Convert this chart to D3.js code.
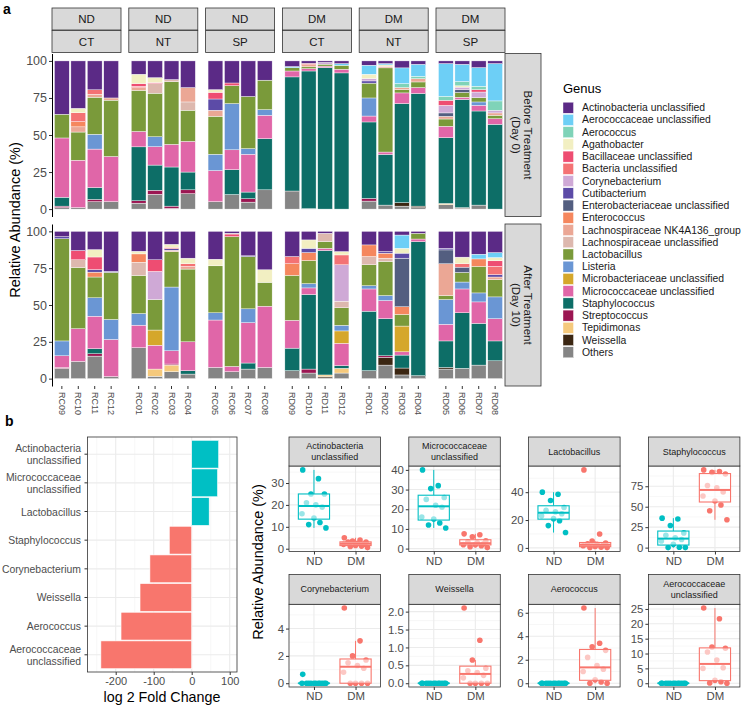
<!DOCTYPE html>
<html lang="en">
<head>
<meta charset="utf-8">
<title>Genus relative abundance, ND vs DM</title>
<script src="https://cdn.jsdelivr.net/npm/d3@7"></script>
<style>
  body { margin: 0; background: #fff; }
  svg text { font-family: "Liberation Sans", Arial, Helvetica, sans-serif; }
</style>
</head>
<body>
<script>
// ---------------- data ----------------
var genera = ["Actinobacteria unclassified", "Aerococcaceae unclassified", "Aerococcus", "Agathobacter",
  "Bacillaceae unclassified", "Bacteria unclassified", "Corynebacterium", "Cutibacterium",
  "Enterobacteriaceae unclassified", "Enterococcus", "Lachnospiraceae NK4A136_group",
  "Lachnospiraceae unclassified", "Lactobacillus", "Listeria", "Microbacteriaceae unclassified",
  "Micrococcaceae unclassified", "Staphylococcus", "Streptococcus", "Tepidimonas", "Weissella", "Others"];
var genusKeys = ["Act", "AerU", "Aer", "Aga", "Bac", "BacU", "Cor", "Cut", "Ent", "Enc", "LNK",
  "LU", "Lac", "Lis", "MbU", "Mic", "Sta", "Str", "Tep", "Wei", "Oth"];
var genusColors = ["#5B2A86", "#6DCFF6", "#7FD3B8", "#F2EFC2", "#EE4D72", "#F47274", "#CFA9D6",
  "#5C4BA7", "#535E80", "#F5875E", "#EBA795", "#DDB8AE", "#7A9A3A", "#6A96D4", "#D5A72B",
  "#E066A8", "#0D6E67", "#9B1652", "#F5C97C", "#3B2612", "#858585"];

var diets = ["ND", "ND", "ND", "DM", "DM", "DM"];
var sites = ["CT", "NT", "SP", "CT", "NT", "SP"];
var samples = [["RC09", "RC10", "RC11", "RC12"], ["RC01", "RC02", "RC03", "RC04"],
  ["RC05", "RC06", "RC07", "RC08"], ["RD09", "RD10", "RD11", "RD12"],
  ["RD01", "RD02", "RD03", "RD04"], ["RD05", "RD06", "RD07", "RD08"]];
var timepoints = [["Before Treatment", "(Day 0)"], ["After Treatment", "(Day 10)"]];
var abundanceTicks = [0, 25, 50, 75, 100];

// percent per genus, same sample order as `samples`
var beforeTreatment = [
  {Oth: 1, Str: 1, Sta: 6, Mic: 40, Lac: 16, Act: 36},
  {Oth: 1, Mic: 32, Lac: 19, LNK: 3.5, Enc: 3.5, BacU: 6, Aga: 3, Act: 32},
  {Oth: 5, Str: 1.5, Sta: 8, Mic: 26, Lis: 10, Lac: 25, LNK: 2, BacU: 3, Act: 19.5},
  {Oth: 5, Mic: 30.5, Lac: 38, LNK: 1.5, Act: 25},
  {Oth: 4, Str: 1.6, Sta: 36.4, Mic: 10.4, Lac: 27.7, LNK: 1.8, BacU: 1, Bac: 1.8, Aga: 6.3, Act: 9},
  {Oth: 10, Str: 2.7, Sta: 17, Mic: 12.4, Lis: 6.7, Lac: 29.4, LU: 6.5, Bac: 0.7, Aga: 3.3, Act: 11.3},
  {Oth: 0.5, Str: 1.5, Sta: 26.4, Mic: 15.3, Lac: 42.3, LU: 1.4, Act: 12.6},
  {Oth: 10.4, Str: 2.6, Sta: 12, Mic: 20.7, Lac: 21, LU: 5.6, LNK: 9.7, Act: 18},
  {Oth: 5, Mic: 21, Lis: 11, Lac: 25.6, LNK: 4.1, Cut: 7.6, Bac: 4.5, Aga: 1.8, Act: 19.4},
  {Oth: 9.8, Sta: 16.8, Mic: 13.4, Lis: 31.2, Lac: 12.1, Bac: 1.8, Act: 14.9},
  {Oth: 4.7, Str: 2.3, Sta: 4.5, Mic: 25.5, Lis: 3.8, Lac: 35.2, Act: 24},
  {Oth: 13, Sta: 34.5, Mic: 15.8, Lis: 3.8, Lac: 19.9, Act: 13},
  {Oth: 12.2, Sta: 77, Mic: 4, Lac: 2.2, AerU: 0.8, Act: 3.8},
  {Oth: 0.3, Sta: 92.9, Mic: 1.6, Lac: 1.2, BacU: 1, LNK: 1.4, Act: 1.6},
  {Sta: 95.5, Mic: 1, Lac: 1.3, Cor: 1.2, Act: 1},
  {Sta: 91.9, Mic: 2.5, Lac: 2.6, AerU: 1.2, Act: 1.8},
  {Oth: 5.4, Str: 1.8, Sta: 51.6, Mic: 4, Lis: 12.2, Lac: 10, Cut: 1.5, Cor: 1.6, Aga: 2.9, AerU: 6.1, Act: 2.9},
  {Oth: 2.7, Sta: 34.2, Mic: 1.6, Lac: 56.8, LNK: 1.1, Aga: 0.9, AerU: 0.9, Act: 1.8},
  {Oth: 2, Wei: 2.3, Sta: 66.9, Mic: 7.2, Lac: 2.2, LNK: 1.4, Aer: 2.7, AerU: 10.6, Act: 4.7},
  {Oth: 1, Wei: 1, Sta: 76, Mic: 4, Lac: 3.8, LNK: 2.2, Aer: 1.6, AerU: 8.1, Act: 2.3},
  {Oth: 3, Tep: 0.8, Sta: 44.4, Mic: 7.7, Lac: 4.9, LNK: 1.8, Ent: 2.3, Cor: 5.1, Bac: 3.4, Aer: 2.7, AerU: 22.1, Act: 1.8},
  {Oth: 0.5, Wei: 0.5, Sta: 73, Mic: 1.5, Lac: 3.2, Cor: 1.8, Ent: 1.8, Aga: 0.9, Aer: 2.9, AerU: 11.6, Act: 2.3},
  {Oth: 2.7, Sta: 63.5, Mic: 3.8, Lis: 2.3, Lac: 2.9, Cor: 3.8, Bac: 1.6, Aer: 2.3, AerU: 12.6, Act: 4.5},
  {Sta: 57.2, Mic: 3.8, Lac: 2.3, LNK: 1.6, Cor: 1.8, Aer: 6.3, AerU: 25.2, Act: 1.8}
];
var afterTreatment = [
  {Oth: 7, Str: 0.6, Mic: 7.9, Lis: 10.1, Lac: 69.4, Cut: 1.4, Act: 3.6},
  {Oth: 11.7, Mic: 22.2, Lac: 41.6, LU: 5.2, Bac: 6.3, Act: 13},
  {Oth: 15.3, Str: 1.6, Sta: 3.4, Mic: 22.1, Lis: 12.5, Lac: 14.1, Cut: 1.7, Enc: 3.3, Bac: 8.6, Aga: 5, Act: 12.4},
  {Oth: 1.4, Mic: 25.2, Lis: 13.6, Lac: 32, Cut: 0.7, Act: 27.1},
  {Oth: 21, Mic: 15.3, Lis: 7.9, Lac: 25.8, LU: 9, Enc: 5.7, Aga: 1.8, Act: 13.5},
  {Oth: 1.6, Tep: 4.9, Mic: 16.2, MbU: 10.3, Lac: 20.7, Cor: 19.1, Bac: 7.9, Act: 19.3},
  {Oth: 4.7, Tep: 4.5, Str: 0.7, Mic: 9, Lis: 43.3, Lac: 24.1, Cut: 1, BacU: 1, LNK: 0.9, Aga: 2, Act: 8.8},
  {Oth: 3.1, Sta: 2.3, Mic: 19.6, Lac: 49.4, LNK: 1.8, BacU: 1.8, Aga: 3.8, Act: 18.2},
  {Oth: 7.6, Mic: 32.2, Lis: 4.9, Lac: 31.9, Aga: 4.5, Act: 18.9},
  {Oth: 4.7, Mic: 3.6, Lac: 88.1, Bac: 1.8, Aga: 0.5, Act: 1.3},
  {Oth: 6.5, Sta: 4.1, Mic: 27.4, Lis: 9.4, Lac: 35.5, Cut: 0.5, Act: 16.6},
  {Oth: 7.6, Mic: 41.6, Lac: 16.2, Aga: 8.5, Act: 26.1},
  {Oth: 5.4, Sta: 15.3, Mic: 18.9, Lac: 30.5, Enc: 7.9, BacU: 4.9, Act: 17.1},
  {Oth: 3.8, Str: 2.7, Sta: 50.6, Mic: 4.5, Lis: 2.9, Lac: 15.7, Enc: 5.4, Cut: 2.9, Aga: 5.7, Act: 5.8},
  {Oth: 0.5, Wei: 0.9, Tep: 1.1, Sta: 84.5, Mic: 1.5, Lac: 4.5, LU: 5.7, Act: 1.3},
  {Oth: 3.8, Tep: 3.2, Sta: 1.8, Mic: 15.2, MbU: 8.4, Lis: 3.8, Lac: 11.9, LU: 4.5, Cor: 24.7, BacU: 6.7, Aga: 2.3, Act: 13.7},
  {Oth: 5.4, Sta: 40.4, Mic: 15.1, Lis: 2.2, Lac: 14.2, LU: 5.6, Enc: 7.9, Act: 9.2},
  {Oth: 9.2, Wei: 5.2, Str: 1.1, Sta: 25.2, Mic: 12.3, Lis: 3.4, Lac: 23.2, LU: 2.2, Enc: 3.4, Cut: 1.1, Act: 13.7},
  {Oth: 2.5, Wei: 4.7, Sta: 8.8, Mic: 2.2, MbU: 17.5, Lac: 7.9, Enc: 5.2, Ent: 33, Cut: 3.4, Aga: 3.3, AerU: 9, Act: 2.5},
  {Oth: 2, Sta: 91, Mic: 1.8, Lac: 3.9, Act: 1.3},
  {Oth: 6.5, Wei: 1.1, Sta: 18, Mic: 11.3, Lis: 16.8, Lac: 2.7, LNK: 21.6, Ent: 9.4, Cut: 1.1, Act: 11.5},
  {Oth: 7, Sta: 37.7, Mic: 16.2, Lis: 4.7, Lac: 6.5, Ent: 3.6, BacU: 2.3, Aga: 4.5, Act: 17.5},
  {Oth: 9.2, Sta: 28.3, Mic: 14.6, Lis: 6.1, Lac: 18, Enc: 5.1, AerU: 3.2, Act: 15.5},
  {Oth: 12.1, Sta: 13.5, Mic: 15.1, Lis: 14.8, Lac: 11.7, LNK: 1.8, Cut: 1.6, BacU: 5.6, Bac: 3.8, Aga: 2.2, AerU: 3.4, Act: 14.4}
];

// panel b, fold change
var foldGenera = ["Actinobacteria\nunclassified", "Micrococcaceae\nunclassified", "Lactobacillus",
  "Staphylococcus", "Corynebacterium", "Weissella", "Aerococcus", "Aerococcaceae\nunclassified"];
var foldChange = [71, 68, 46, -59, -110, -136, -186, -239];
var foldTicks = [-200, -100, 0, 100];
var foldMinor = [-250, -150, -50, 50];

// panel b, box plots
var groups = ["ND", "DM"];
var boxGenera = ["Actinobacteria\nunclassified", "Micrococcaceae\nunclassified", "Lactobacillus",
  "Staphylococcus", "Corynebacterium", "Weissella", "Aerococcus", "Aerococcaceae\nunclassified"];
var ndAbundance = [
  [36, 32, 25, 25, 21, 20, 19, 16, 14, 12, 11, 9.5],
  [40, 32, 30.5, 26, 25, 22, 21, 16, 15, 13, 12, 10.5],
  [40, 38.5, 34, 29, 27, 26, 24.5, 23, 21, 19.5, 16, 11],
  [36, 35, 27, 18, 15, 12, 10, 8, 4, 0.5, 0, 0],
  [0.65, 0, 0, 0, 0, 0, 0, 0, 0, 0, 0, 0],
  [0, 0, 0, 0, 0, 0, 0, 0, 0, 0, 0, 0],
  [0, 0, 0, 0, 0, 0, 0, 0, 0, 0, 0, 0],
  [0, 0, 0, 0, 0, 0, 0, 0, 0, 0, 0, 0]
];
var dmAbundance = [
  [5, 4, 3.5, 3, 3, 2.5, 2, 2, 1.5, 1.2, 1, 0.5],
  [7.5, 7, 6, 4, 3.5, 3, 2.5, 2, 2, 1.5, 1, 0.5],
  [56, 10, 5, 3.5, 3, 2.5, 2, 1.5, 1, 0.5, 0.3, 0.2],
  [95, 93, 92, 90, 76, 73, 68, 63, 57, 52, 45, 34],
  [5.5, 3.1, 2.0, 1.7, 1.5, 1.3, 1.1, 0.8, 0, 0, 0, 0],
  [2.1, 1.2, 0.65, 0.42, 0.35, 0.3, 0.22, 0.15, 0, 0, 0, 0],
  [6.4, 3.4, 3.1, 2.8, 2.2, 1.5, 1.2, 1.0, 0.3, 0.1, 0, 0],
  [25.3, 21.7, 12.2, 11.8, 10.5, 7.8, 5.2, 5.0, 1.0, 0.5, 0.1, 0]
];
var boxTickLabels = [
  ["0", "10", "20", "30"], ["0", "10", "20", "30", "40"], ["0", "20", "40"], ["0", "25", "50", "75"],
  ["0", "2", "4"], ["0.0", "0.5", "1.0", "1.5", "2.0"], ["0", "2", "4", "6"], ["0", "5", "10", "15", "20", "25"]
];

// ---------------- drawing ----------------
var svg = d3.select("body").append("svg").attr("width", 742).attr("height", 706);
var axisGrey = "#4D4D4D", stripFill = "#D9D9D9", stripLine = "#333333";
var groupColor = d3.scaleOrdinal().domain(groups).range(["#00BFC4", "#F8766D"]);
var color = d3.scaleOrdinal().domain(genusKeys).range(genusColors);

svg.append("text").attr("x", 3).attr("y", 14).text("a")
  .attr("font-size", 14).attr("font-weight", "bold");
svg.append("text").attr("x", 5).attr("y", 426).text("b")
  .attr("font-size", 14).attr("font-weight", "bold");

// multi-line helper
function lines(sel, str, lh) {
  var parts = str.split("\n");
  parts.forEach(function(p, i) {
    sel.append("tspan").attr("x", sel.attr("x"))
      .attr("dy", i == 0 ? (-(parts.length - 1) * lh / 2) + "px" : lh + "px").text(p);
  });
}

// ---- panel a ----
var facetLeft = 52, facetStep = 76.8, facetW = 69;
var aRows = [
  {top: 53.5, bottom: 216.5, data: beforeTreatment},
  {top: 224, bottom: 386, data: afterTreatment}
];
var stacker = d3.stack().keys(genusKeys.slice().reverse());

aRows.forEach(function(row, ri) {
  var y = d3.scaleLinear().domain([-5, 105]).range([row.bottom, row.top]);
  var norm = row.data.map(function(r) {
    var total = d3.sum(genusKeys, function(k) { return r[k] || 0; });
    var o = {};
    genusKeys.forEach(function(k) { o[k] = (r[k] || 0) * 100 / total; });
    return o;
  });

  var ax = svg.append("g").attr("transform", "translate(" + facetLeft + ",0)")
    .call(d3.axisLeft(y).tickValues(abundanceTicks).tickSize(3).tickSizeOuter(0).tickPadding(2));
  ax.select(".domain").attr("stroke", "#000").attr("stroke-width", 1);
  ax.selectAll(".tick line").attr("stroke", "#333");
  ax.selectAll(".tick text").attr("fill", axisGrey).attr("font-size", 12.5)
    .attr("font-family", "'Liberation Sans', Arial, sans-serif");

  sites.forEach(function(site, fi) {
    var x0 = facetLeft + fi * facetStep;
    var x = d3.scaleBand().domain(samples[fi]).range([x0, x0 + facetW])
      .paddingInner(0.1).paddingOuter(0.15);
    var bars = norm.slice(fi * 4, fi * 4 + 4).map(function(d, i) {
      d.sample = samples[fi][i];
      return d;
    });
    svg.append("g").selectAll("g").data(stacker(bars)).enter().append("g")
      .attr("fill", function(s) { return color(s.key); })
      .selectAll("rect").data(function(s) { return s.filter(function(d) { return d[1] - d[0] > 0; }); })
      .enter().append("rect")
      .attr("x", function(d) { return x(d.data.sample); })
      .attr("y", function(d) { return y(d[1]); })
      .attr("width", x.bandwidth())
      .attr("height", function(d) { return y(d[0]) - y(d[1]); })
      .attr("stroke", "#fff").attr("stroke-width", 0.4);

    if (ri == 0) {
      [diets[fi], site].forEach(function(lab, k) {
        var sy = 8 + k * 22.5;
        svg.append("rect").attr("x", x0).attr("y", sy).attr("width", facetW).attr("height", 22)
          .attr("fill", stripFill).attr("stroke", stripLine).attr("stroke-width", 0.8);
        svg.append("text").attr("x", x0 + facetW / 2).attr("y", sy + 11).text(lab)
          .attr("text-anchor", "middle").attr("dominant-baseline", "central")
          .attr("font-size", 11.5).attr("fill", "#1A1A1A");
      });
    } else {
      samples[fi].forEach(function(s) {
        var cx = x(s) + x.bandwidth() / 2;
        svg.append("line").attr("x1", cx).attr("x2", cx).attr("y1", row.bottom).attr("y2", row.bottom + 3)
          .attr("stroke", "#333");
        svg.append("text").attr("x", cx).attr("y", row.bottom + 6).text(s)
          .attr("transform", "rotate(90," + cx + "," + (row.bottom + 6) + ")")
          .attr("dominant-baseline", "central").attr("font-size", 9).attr("fill", axisGrey);
      });
    }
  });

  // row strip on the right
  var sx = facetLeft + 5 * facetStep + facetW;
  svg.append("rect").attr("x", sx).attr("y", row.top).attr("width", 36).attr("height", row.bottom - row.top)
    .attr("fill", stripFill).attr("stroke", stripLine).attr("stroke-width", 0.8);
  timepoints[ri].forEach(function(t, k) {
    var tx = sx + 23 - k * 12, ty = (row.top + row.bottom) / 2;
    svg.append("text").attr("x", tx).attr("y", ty).text(t)
      .attr("transform", "rotate(90," + tx + "," + ty + ")")
      .attr("text-anchor", "middle").attr("dominant-baseline", "central")
      .attr("font-size", 11.5).attr("fill", "#1A1A1A");
  });
});

svg.append("text").attr("transform", "translate(20,220) rotate(-90)")
  .attr("text-anchor", "middle").attr("font-size", 14.5).text("Relative Abundance (%)");

// legend
var legend = svg.append("g").attr("transform", "translate(563,0)");
legend.append("text").attr("x", 0).attr("y", 93).attr("font-size", 13).text("Genus");
legend.selectAll("rect").data(genusKeys).enter().append("rect")
  .attr("x", 0).attr("y", function(d, i) { return 102.2 + i * 12.23; })
  .attr("width", 10.5).attr("height", 11)
  .attr("fill", function(d) { return color(d); }).attr("stroke", "#fff").attr("stroke-width", 0.4);
legend.selectAll("text.lab").data(genera).enter().append("text").attr("class", "lab")
  .attr("x", 19).attr("y", function(d, i) { return 107.7 + i * 12.23; })
  .attr("dominant-baseline", "central").attr("font-size", 10.4).attr("fill", "#1A1A1A")
  .text(function(d) { return d; });

// ---- panel b: fold change bars ----
var fcX = d3.scaleLinear().domain([-274.2, 119.2]).range([87.5, 237]);
var fcY = d3.scaleBand().domain(foldGenera).range([437, 672]).paddingInner(0.03).paddingOuter(0.115);
var fc = svg.append("g");
fc.selectAll("line.minor").data(foldMinor).enter().append("line")
  .attr("x1", fcX).attr("x2", fcX).attr("y1", 437).attr("y2", 672)
  .attr("stroke", "#F2F2F2").attr("stroke-width", 0.6);
fc.selectAll("line.major").data(foldTicks).enter().append("line")
  .attr("x1", fcX).attr("x2", fcX).attr("y1", 437).attr("y2", 672)
  .attr("stroke", "#EBEBEB").attr("stroke-width", 1.1);
fc.selectAll("line.hgrid").data(foldGenera).enter().append("line")
  .attr("x1", 87.5).attr("x2", 237)
  .attr("y1", function(d) { return fcY(d) + fcY.bandwidth() / 2; })
  .attr("y2", function(d) { return fcY(d) + fcY.bandwidth() / 2; })
  .attr("stroke", "#EBEBEB").attr("stroke-width", 1.1);
fc.selectAll("rect.bar").data(foldGenera).enter().append("rect")
  .attr("x", function(d, i) { return Math.min(fcX(0), fcX(foldChange[i])); })
  .attr("width", function(d, i) { return Math.abs(fcX(foldChange[i]) - fcX(0)); })
  .attr("y", function(d) { return fcY(d); })
  .attr("height", fcY.bandwidth())
  .attr("fill", function(d, i) { return foldChange[i] > 0 ? "#00BFC4" : "#F8766D"; })
  .attr("stroke", "#fff").attr("stroke-width", 0.6);
fc.append("rect").attr("x", 87.5).attr("y", 437).attr("width", 149.5).attr("height", 235)
  .attr("fill", "none").attr("stroke", stripLine).attr("stroke-width", 0.8);

var fcAxisX = fc.append("g").attr("transform", "translate(0,672)")
  .call(d3.axisBottom(fcX).tickValues(foldTicks).tickSize(3).tickSizeOuter(0).tickPadding(2)
    .tickFormat(function(d) { return String(d); }));
fcAxisX.select(".domain").remove();
fcAxisX.selectAll(".tick line").attr("stroke", "#333");
fcAxisX.selectAll(".tick text").attr("fill", axisGrey).attr("font-size", 11)
  .attr("font-family", "'Liberation Sans', Arial, sans-serif");

foldGenera.forEach(function(g) {
  var cy = fcY(g) + fcY.bandwidth() / 2;
  fc.append("line").attr("x1", 84.5).attr("x2", 87.5).attr("y1", cy).attr("y2", cy).attr("stroke", "#333");
  var t = fc.append("text").attr("x", 81).attr("y", cy).attr("text-anchor", "end")
    .attr("dominant-baseline", "central").attr("font-size", 10.4).attr("fill", axisGrey);
  lines(t, g, 12);
});
fc.append("text").attr("x", 162).attr("y", 702).attr("text-anchor", "middle")
  .attr("font-size", 14.3).text("log 2 Fold Change");

// ---- panel b: box plots ----
var boxLeft = 289, boxStep = 119.8, boxW = 91.5;
var boxRows = [{stripTop: 437, top: 466, bottom: 551.5}, {stripTop: 574.5, top: 604.3, bottom: 687}];
var jitter = [-0.3, 0.12, -0.08, 0.28, -0.2, 0.05, 0.22, -0.32, 0.0, 0.16, -0.14, 0.32];

boxGenera.forEach(function(name, i) {
  var r = boxRows[Math.floor(i / 4)];
  var x0 = boxLeft + (i % 4) * boxStep;
  var x = d3.scalePoint().domain(groups).range([x0, x0 + boxW]).padding(0.6);
  var sets = [ndAbundance[i], dmAbundance[i]];
  var all = sets[0].concat(sets[1]);
  var lo = d3.min(all), hi = d3.max(all), pad = (hi - lo) * 0.05;
  var y = d3.scaleLinear().domain([lo - pad, hi + pad]).range([r.bottom, r.top]);
  var ticks = boxTickLabels[i].map(Number);
  var tstep = ticks[1] - ticks[0];
  var minor = ticks.map(function(t) { return t + tstep / 2; })
    .concat([ticks[0] - tstep / 2])
    .filter(function(v) { return v > y.domain()[0] && v < y.domain()[1]; });
  var g = svg.append("g");

  g.selectAll("line.minor").data(minor).enter().append("line")
    .attr("x1", x0).attr("x2", x0 + boxW).attr("y1", y).attr("y2", y)
    .attr("stroke", "#F2F2F2").attr("stroke-width", 0.6);
  g.selectAll("line.major").data(ticks).enter().append("line")
    .attr("x1", x0).attr("x2", x0 + boxW).attr("y1", y).attr("y2", y)
    .attr("stroke", "#EBEBEB").attr("stroke-width", 1.1);
  g.selectAll("line.vgrid").data(groups).enter().append("line")
    .attr("x1", x).attr("x2", x).attr("y1", r.top).attr("y2", r.bottom)
    .attr("stroke", "#EBEBEB").attr("stroke-width", 1.1);

  var step = x.step();
  groups.forEach(function(grp, gi) {
    var vals = sets[gi];
    var cx = x(grp), c = groupColor(grp);
    g.selectAll(null).data(vals).enter().append("circle")
      .attr("cx", function(d, k) { return cx + jitter[k] * step * 0.9; })
      .attr("cy", function(d) { return y(d); })
      .attr("r", 2.8).attr("fill", c);
    var s = vals.slice().sort(d3.ascending);
    var q1 = d3.quantile(s, 0.25), med = d3.quantile(s, 0.5), q3 = d3.quantile(s, 0.75);
    var iqr = q3 - q1;
    var wLo = d3.min(s.filter(function(v) { return v >= q1 - 1.5 * iqr; }));
    var wHi = d3.max(s.filter(function(v) { return v <= q3 + 1.5 * iqr; }));
    var bw = step * 0.75;
    g.append("line").attr("x1", cx).attr("x2", cx).attr("y1", y(q3)).attr("y2", y(wHi))
      .attr("stroke", c).attr("stroke-width", 1);
    g.append("line").attr("x1", cx).attr("x2", cx).attr("y1", y(q1)).attr("y2", y(wLo))
      .attr("stroke", c).attr("stroke-width", 1);
    g.append("rect").attr("x", cx - bw / 2).attr("width", bw)
      .attr("y", y(q3)).attr("height", Math.max(0.01, y(q1) - y(q3)))
      .attr("fill", "#fff").attr("fill-opacity", 0.6).attr("stroke", c).attr("stroke-width", 1.1);
    g.append("line").attr("x1", cx - bw / 2).attr("x2", cx + bw / 2).attr("y1", y(med)).attr("y2", y(med))
      .attr("stroke", c).attr("stroke-width", 2);
  });

  g.append("rect").attr("x", x0).attr("y", r.top).attr("width", boxW).attr("height", r.bottom - r.top)
    .attr("fill", "none").attr("stroke", stripLine).attr("stroke-width", 0.8);
  g.append("rect").attr("x", x0).attr("y", r.stripTop).attr("width", boxW).attr("height", r.top - r.stripTop)
    .attr("fill", stripFill).attr("stroke", stripLine).attr("stroke-width", 0.8);
  var st = g.append("text").attr("x", x0 + boxW / 2).attr("y", (r.stripTop + r.top) / 2)
    .attr("text-anchor", "middle").attr("dominant-baseline", "central")
    .attr("font-size", 9).attr("fill", "#1A1A1A");
  lines(st, name, 10.5);

  var ay = g.append("g").attr("transform", "translate(" + x0 + ",0)")
    .call(d3.axisLeft(y).tickValues(ticks).tickSize(3).tickSizeOuter(0).tickPadding(2)
      .tickFormat(function(d, k) { return boxTickLabels[i][k]; }));
  ay.select(".domain").remove();
  ay.selectAll(".tick line").attr("stroke", "#333");
  ay.selectAll(".tick text").attr("fill", axisGrey).attr("font-size", 11.4)
    .attr("font-family", "'Liberation Sans', Arial, sans-serif");
  var axb = g.append("g").attr("transform", "translate(0," + r.bottom + ")")
    .call(d3.axisBottom(x).tickSize(3).tickSizeOuter(0).tickPadding(2));
  axb.select(".domain").remove();
  axb.selectAll(".tick line").attr("stroke", "#333");
  axb.selectAll(".tick text").attr("fill", axisGrey).attr("font-size", 11.4)
    .attr("font-family", "'Liberation Sans', Arial, sans-serif");
});

svg.append("text").attr("transform", "translate(263,562) rotate(-90)")
  .attr("text-anchor", "middle").attr("font-size", 14.5).text("Relative Abundance (%)");
</script>
</body>
</html>
